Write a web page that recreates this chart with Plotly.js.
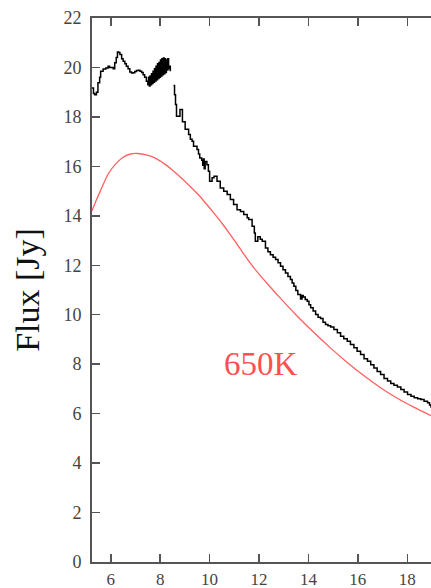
<!DOCTYPE html>
<html>
<head>
<meta charset="utf-8">
<script src="https://cdn.plot.ly/plotly-3.0.1.min.js"></script>
<style>html,body{margin:0;padding:0;background:#fff;overflow:hidden}#chart{width:431px;height:588px}</style>
</head>
<body>
<div id="chart"></div>
<script>
// Observed spectrum (stepped, black)
const specWave = [5.24,5.30,5.35,5.42,5.48,5.55,5.59,5.69,5.80,5.89,5.95,6.02,6.10,6.16,6.22,6.27,6.32,6.37,6.44,6.50,6.57,6.63,6.70,6.77,6.84,6.90,6.97,7.04,7.11,7.18,7.25,7.31,7.37,7.44,7.50,
7.53,7.56,7.59,7.62,7.65,7.68,7.71,7.74,7.77,7.80,7.83,7.86,7.89,7.92,7.95,7.98,8.01,8.04,8.07,8.10,8.13,8.16,8.19,8.22,8.25,8.28,8.31,8.34,8.37,8.41,
8.48,
8.54,8.58,8.62,8.66,8.75,8.80,8.86,8.90,9.01,9.15,9.22,9.29,9.35,9.49,9.55,9.60,9.68,9.72,9.75,9.78,9.82,9.89,9.95,10.0,10.1,10.18,10.3,10.43,10.57,10.71,10.84,10.97,11.11,11.25,11.38,11.52,11.58,11.72,11.81,11.85,11.95,12.05,12.13,12.26,12.36,12.46,12.57,12.67,12.77,12.87,12.97,13.07,13.17,13.27,13.34,13.41,13.49,13.57,13.68,13.74,13.79,13.87,13.95,14.02,14.09,14.19,14.29,14.39,14.49,14.59,14.69,14.79,14.9,15.03,15.17,15.3,15.43,15.57,15.7,15.84,15.97,16.11,16.25,16.39,16.52,16.65,16.78,16.92,17.06,17.2,17.33,17.46,17.6,17.74,17.87,18.01,18.15,18.28,18.42,18.55,18.68,18.82,18.9,18.96];
const specFlux = [19.17,18.95,18.9,19.0,19.38,19.6,19.85,19.94,19.98,20.05,20.0,20.0,19.95,20.19,20.4,20.62,20.6,20.52,20.35,20.25,20.15,20.05,19.95,19.82,19.78,19.79,19.84,19.88,19.89,19.85,19.8,19.71,19.6,19.44,19.3,
19.6,19.25,19.65,19.3,19.75,19.35,19.85,19.4,19.95,19.45,20.05,19.5,20.15,19.55,20.2,19.6,20.3,19.65,20.35,19.7,20.38,19.75,20.35,19.8,20.3,19.9,20.35,19.95,20.05,19.85,
null,
19.27,18.9,18.5,18.03,18.03,18.3,18.3,17.8,17.5,17.29,17.1,17.02,16.81,16.68,16.5,16.34,16.25,16.05,16.3,15.9,16.2,16.07,15.8,15.4,15.54,15.6,15.4,15.13,14.99,14.86,14.66,14.46,14.25,14.17,14.05,13.92,13.85,13.58,13.31,12.97,13.15,13.05,12.97,12.7,12.55,12.43,12.32,12.23,12.1,11.96,11.82,11.69,11.55,11.42,11.28,11.15,10.98,10.82,10.64,10.78,10.72,10.62,10.55,10.4,10.28,10.15,10.01,9.9,9.85,9.7,9.6,9.55,9.5,9.4,9.27,9.13,9.03,8.93,8.8,8.66,8.52,8.39,8.22,8.12,7.98,7.85,7.7,7.58,7.42,7.32,7.22,7.15,7.08,6.98,6.87,6.77,6.7,6.64,6.6,6.57,6.5,6.44,6.35,6.24];

// 650K model curve (red)
const bbWave = [5.24,5.4,5.6,5.9,6.2,6.5,6.8,7.1,7.4,7.8,8.2,8.5,8.8,9.1,9.5,9.8,10.15,10.5,10.85,11.2,11.52,11.9,12.4,12.87,13.5,14.22,14.9,15.57,16.25,16.92,17.6,18.28,18.96];
const bbFlux = [14.2,14.6,15.05,15.7,16.1,16.37,16.5,16.52,16.47,16.33,16.08,15.84,15.58,15.3,14.9,14.56,14.14,13.7,13.22,12.72,12.26,11.76,11.18,10.66,9.99,9.28,8.65,8.07,7.53,7.05,6.62,6.25,5.92];

const modelLabel = "650K";
const xTicks = [6,8,10,12,14,16,18];
const yTicks = [0,2,4,6,8,10,12,14,16,18,20,22];

const axisColor = "#555";
const serif = "Liberation Serif, DejaVu Serif, serif";

const traces = [
  {x: bbWave, y: bbFlux, mode: "lines", line: {color: "#ff6060", width: 1.3, shape: "spline", smoothing: 0.8}, hoverinfo: "skip"},
  {x: specWave, y: specFlux, mode: "lines", connectgaps: false, line: {color: "#000", width: 1.5, shape: "hv"}, hoverinfo: "skip"}
];

const layout = {
  width: 431, height: 588,
  margin: {l: 92, r: 0, t: 18, b: 25.5},
  paper_bgcolor: "#fff", plot_bgcolor: "#fff",
  showlegend: false,
  font: {family: serif, color: "#444", size: 17},
  xaxis: {
    range: [5.24, 18.96], tickvals: xTicks, ticktext: xTicks.map(String),
    ticks: "inside", ticklen: 8, tickwidth: 1.5, tickcolor: axisColor,
    showline: true, linecolor: axisColor, linewidth: 2, mirror: "ticks",
    showgrid: false, zeroline: false, tickfont: {family: serif, size: 17, color: "#444"},
    ticklabelstandoff: 1
  },
  yaxis: {
    range: [0, 22], tickvals: yTicks, ticktext: yTicks.map(String),
    ticks: "inside", ticklen: 8, tickwidth: 1.5, tickcolor: axisColor,
    showline: true, linecolor: axisColor, linewidth: 2,
    showgrid: false, zeroline: false, tickfont: {family: serif, size: 18, color: "#444"},
    ticklabelstandoff: 5,
    title: {text: "Flux [Jy]", font: {family: serif, size: 34, color: "#111"}, standoff: 14}
  },
  annotations: [
    {x: 12.06, y: 8.0, xref: "x", yref: "y", text: modelLabel, showarrow: false,
     font: {family: serif, size: 33, color: "#ff5050"}}
  ]
};

Plotly.newPlot("chart", traces, layout, {staticPlot: true, displayModeBar: false});
</script>
</body>
</html>
